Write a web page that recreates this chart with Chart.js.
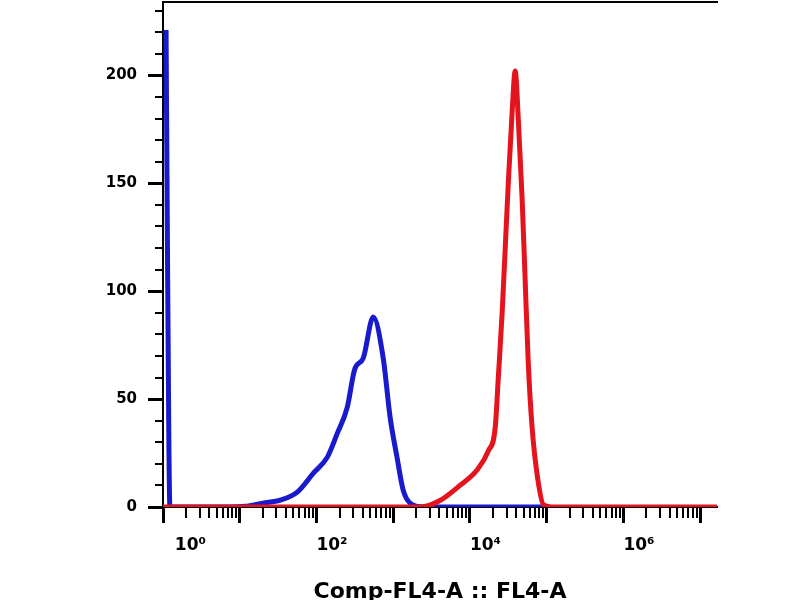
<!DOCTYPE html>
<html>
<head>
<meta charset="utf-8">
<script src="https://cdn.jsdelivr.net/npm/chart.js@4"></script>
<style>
  html, body { margin: 0; padding: 0; background: #ffffff; }
  #wrap { width: 800px; height: 600px; }
</style>
</head>
<body>
<div id="wrap"><canvas id="c" width="800" height="600"></canvas></div>
<script>
// ---- data (x in decades: value = log10 of intensity) ----
const xTickValues = [0, 1, 2, 3, 4, 5, 6, 7];
const xTickLabels = ["  10\u2070", "", "10\u00B2", "", "10\u2074", "", "10\u2076", ""];
const yTickValues = [0, 50, 100, 150, 200];
const xTitle = "Comp-FL4-A :: FL4-A";

const blueX = [0.04, 0.06, 0.09, 0.5, 0.87, 1.07, 1.30, 1.53, 1.75, 1.96, 2.14, 2.27, 2.40, 2.50, 2.61, 2.74, 2.87, 2.96, 3.05, 3.13, 3.22, 3.40, 5.00];
const blueY = [221, 110, 0, 0, 0, 0.3, 1.8, 3.2, 6.9, 15.7, 23, 34, 46, 64, 69, 88, 69, 41.5, 23, 7.8, 1.8, 0, 0];

const redX = [0.0, 3.00, 3.35, 3.61, 3.87, 4.09, 4.24, 4.33, 4.37, 4.42, 4.46, 4.50, 4.55, 4.59, 4.63, 4.68, 4.72, 4.76, 4.81, 4.88, 4.96, 5.10, 7.22];
const redY = [0, 0, 0, 3, 10, 17, 26, 37, 60, 90, 120, 150, 183, 202, 180, 143, 105, 67, 37, 14, 1, 0, 0];

const xMax = 7.22;
const yMax = 234;

const toPoints = (xs, ys) => xs.map((x, i) => ({ x: x, y: ys[i] }));

const minorTicks = {
  id: 'minorTicks',
  afterDraw(chart) {
    const ctx = chart.ctx;
    const xs = chart.scales.x, ys = chart.scales.y;
    const a = chart.chartArea;
    ctx.save();
    ctx.strokeStyle = '#000';
    ctx.lineWidth = 2;
    ctx.beginPath();
    // top border
    ctx.moveTo(a.left - 1, a.top);
    ctx.lineTo(a.right + 1, a.top);
    // x minor (log) ticks
    for (let d = 0; d <= 7; d++) {
      for (let k = 2; k <= 9; k++) {
        const v = d + Math.log10(k);
        if (v > xMax) continue;
        const px = Math.round(xs.getPixelForValue(v));
        ctx.moveTo(px, a.bottom);
        ctx.lineTo(px, a.bottom + 11);
      }
    }
    // y minor ticks every 10
    for (let v = 10; v <= yMax; v += 10) {
      if (v % 50 === 0) continue;
      const py = Math.round(ys.getPixelForValue(v));
      ctx.moveTo(a.left, py);
      ctx.lineTo(a.left - 8, py);
    }
    ctx.stroke();
    ctx.restore();
  }
};

new Chart(document.getElementById('c'), {
  type: 'line',
  data: {
    datasets: [
      {
        label: 'red',
        data: toPoints(redX, redY),
        borderColor: '#e3141e',
        borderWidth: 5,
        pointRadius: 0,
        fill: false,
        cubicInterpolationMode: 'monotone',
        borderJoinStyle: 'round',
        clip: 0
      },
      {
        label: 'blue',
        data: toPoints(blueX, blueY),
        borderColor: '#1a1acd',
        borderWidth: 5,
        pointRadius: 0,
        fill: false,
        cubicInterpolationMode: 'monotone',
        borderJoinStyle: 'round',
        clip: 0
      }
    ]
  },
  options: {
    responsive: false,
    animation: false,
    events: [],
    layout: { padding: { top: 2, right: 83, bottom: 0, left: 0 } },
    plugins: { legend: { display: false }, tooltip: { enabled: false } },
    scales: {
      x: {
        type: 'linear',
        min: 0,
        max: xMax,
        afterBuildTicks(scale) { scale.ticks = xTickValues.map(v => ({ value: v })); },
        afterFit(scale) {
          scale.height = 93;
          scale.paddingLeft = 0; scale.paddingRight = 0;
          scale.paddingTop = 0; scale.paddingBottom = 0;
        },
        grid: {
          drawOnChartArea: false,
          drawTicks: true,
          tickLength: 16,
          tickWidth: 3,
          tickColor: '#000'
        },
        border: { display: true, color: '#000', width: 2 },
        ticks: {
          autoSkip: false,
          maxRotation: 0,
          align: 'start',
          padding: 12,
          color: '#000',
          font: { family: 'DejaVu Sans', size: 17, weight: 'bold' },
          callback: (v, i) => xTickLabels[i]
        },
        title: {
          display: true,
          text: xTitle,
          color: '#000',
          font: { family: 'DejaVu Sans', size: 22, weight: 'bold', lineHeight: 1 },
          padding: { top: 0, bottom: -3 }
        }
      },
      y: {
        type: 'linear',
        min: 0,
        max: yMax,
        afterBuildTicks(scale) { scale.ticks = yTickValues.map(v => ({ value: v })); },
        afterFit(scale) {
          scale.width = 163;
          scale.paddingTop = 0; scale.paddingBottom = 0;
          scale.paddingLeft = 0; scale.paddingRight = 0;
        },
        grid: {
          drawOnChartArea: false,
          drawTicks: true,
          tickLength: 15,
          tickWidth: 3,
          tickColor: '#000'
        },
        border: { display: true, color: '#000', width: 2 },
        ticks: {
          padding: 11,
          color: '#000',
          font: { family: 'DejaVu Sans', size: 15, weight: 'bold' }
        }
      }
    }
  },
  plugins: [minorTicks]
});
</script>
</body>
</html>
